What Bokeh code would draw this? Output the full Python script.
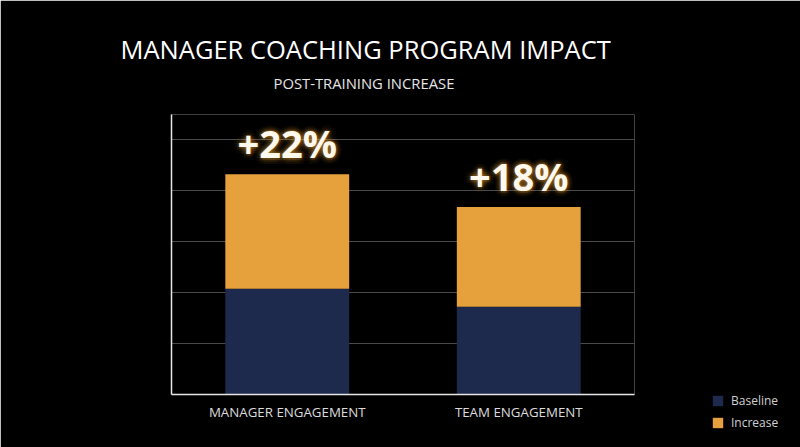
import math
from bokeh.plotting import figure
from bokeh.models import (ColumnDataSource, FactorRange, Range1d, SingleIntervalTicker,
                          FixedTicker, Title)
from bokeh.core.properties import value
from bokeh.embed import file_html
from bokeh.resources import INLINE

categories = ["MANAGER ENGAGEMENT", "TEAM ENGAGEMENT"]
baseline = [41.5, 34.5]
increase = [45.0, 39.2]
labels = ["+22%", "+18%"]
series_names = ["Baseline", "Increase"]
title_text = "MANAGER COACHING PROGRAM IMPACT"
subtitle_text = "POST-TRAINING INCREASE"

NAVY = "#1d2a4d"
ORANGE = "#e6a03c"
FONT = "Open Sans"

totals = [b + i for b, i in zip(baseline, increase)]
source = ColumnDataSource(dict(cat=categories, Baseline=baseline, Increase=increase,
                               total=totals, label=labels))

p = figure(frame_width=463, frame_height=280, x_range=FactorRange(*categories, range_padding=0),
           y_range=Range1d(0, 110), output_backend="svg", toolbar_location=None,
           min_border_left=171, min_border_right=166, min_border_top=114, min_border_bottom=53)
p.background_fill_color = "black"
p.border_fill_color = "black"
p.outline_line_color = None

p.vbar_stack(series_names, x="cat", width=0.535, color=[NAVY, ORANGE], source=source,
             legend_label=series_names, line_color=None)

# soft glow behind the increase labels
for r, a in [(8, 0.025), (6, 0.035), (4, 0.05), (2, 0.08)]:
    for k in range(12):
        ang = 2 * math.pi * k / 12
        p.text(x="cat", y="total", text="label", source=source,
               x_offset=r * math.cos(ang), y_offset=-31 + r * math.sin(ang),
               text_align="center", text_baseline="middle",
               text_font=value(FONT), text_font_style="bold", text_font_size="38px",
               text_color=ORANGE, text_alpha=a)
p.text(x="cat", y="total", text="label", source=source, y_offset=-31,
       text_align="center", text_baseline="middle",
       text_font=value(FONT), text_font_style="bold", text_font_size="38px",
       text_color="#fff8ec")

# axes
p.yaxis.ticker = FixedTicker(ticks=[])
p.ygrid.ticker = SingleIntervalTicker(interval=20)
p.yaxis.major_tick_line_color = None
p.yaxis.minor_tick_line_color = None
p.yaxis.axis_line_color = "#e6e6e6"
p.yaxis.axis_line_width = 1.5
p.xaxis.axis_line_color = "#e6e6e6"
p.xaxis.axis_line_width = 1.5
p.xaxis.major_tick_line_color = None
p.xaxis.major_label_standoff = 2
p.xaxis.major_label_text_font = FONT
p.xaxis.major_label_text_font_size = "13.3px"
p.xaxis.major_label_text_color = "#dcdcdc"
p.xgrid.grid_line_color = None
p.ygrid.grid_line_color = "#4a4a4a"
p.ygrid.grid_line_width = 1

# titles (first added sits closest to the plot)
p.add_layout(Title(text=subtitle_text, align="left", offset=102, standoff=43,
                   text_font=FONT, text_font_size="14.8px", text_font_style="normal",
                   text_color="#e6e6e6"), "above")
p.add_layout(Title(text=title_text, align="left", offset=-51, standoff=-33,
                   text_font=FONT, text_font_size="25.5px", text_font_style="normal",
                   text_color="white"), "above")

# legend
lg = p.legend[0]
p.center.remove(lg)
p.add_layout(lg, "right")
lg.location = (77, -37)
lg.background_fill_alpha = 0
lg.border_line_color = None
lg.padding = 0
lg.margin = 0
lg.glyph_width = 13
lg.glyph_height = 13
lg.label_height = 13
lg.spacing = 5
lg.label_standoff = 7
lg.label_text_font = FONT
lg.label_text_font_size = "12px"
lg.label_text_color = "#d0d0d0"
lg.label_text_baseline = "middle"

html = file_html(p, INLINE)
html = html.replace("<body>", '<body style="background:black">', 1)
open("out.html", "w").write(html)
